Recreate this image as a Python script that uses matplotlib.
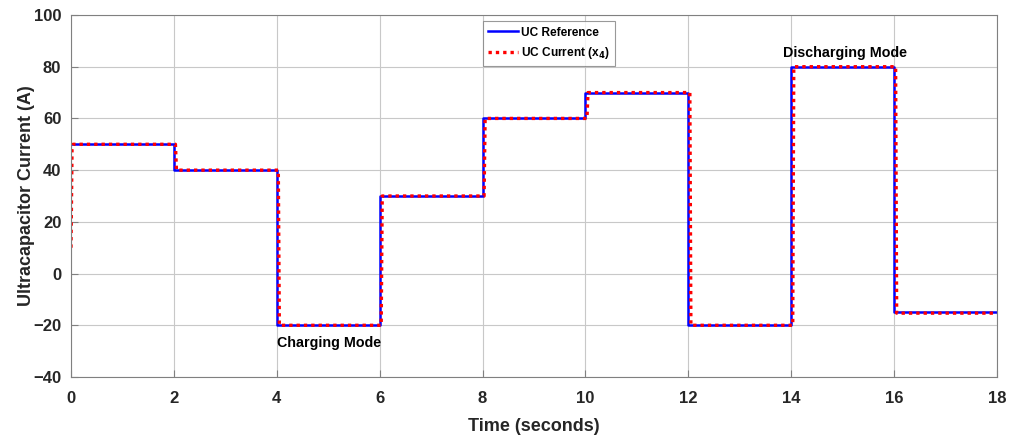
import numpy as np
import matplotlib.pyplot as plt

plt.rcParams["font.family"] = ["Liberation Sans", "DejaVu Sans"]
plt.rcParams["font.weight"] = "bold"

# reference profile: switching instants and setpoints
ref_t = [0, 2, 2, 4, 4, 6, 6, 8, 8, 10, 10, 12, 12, 14, 14, 16, 16, 18]
ref_i = [50, 50, 40, 40, -20, -20, 30, 30, 60, 60, 70, 70, -20, -20, 80, 80, -15, -15]

# measured ultracapacitor current (lags the reference slightly)
cur_t = [0, 0.02, 0.04, 2.03, 2.05, 4.03, 4.05, 6.03, 6.05, 8.03, 8.05,
         10.03, 10.05, 12.03, 12.05, 14.03, 14.05, 16.03, 16.05, 18]
cur_i = [10, 48, 50, 50, 40, 40, -20, -20, 30, 30, 60,
         60, 70, 70, -20, -20, 80, 80, -15.3, -15.3]

fig = plt.figure(figsize=(10.26, 4.36), dpi=100)
ax = fig.add_axes([0.0692, 0.1353, 0.9025, 0.8303])

ax.plot(ref_t, ref_i, color="blue", lw=1.8, label="UC Reference")
ax.plot(cur_t, cur_i, color="red", lw=2.4, ls=(0, (1, 1.2)), label="UC Current (x$_4$)")

ax.set_xlim(0, 18)
ax.set_ylim(-40, 100)
ax.set_xticks(np.arange(0, 19, 2))
ax.set_yticks(np.arange(-40, 101, 20))
ax.set_yticklabels(["\u221240", "\u221220", "0", "20", "40", "60", "80", "100"])
ax.grid(True, color="#c8c8c8", lw=0.8)
ax.tick_params(direction="in", length=5, color="#808080", labelsize=12)
ax.tick_params(axis="x", pad=10)
ax.tick_params(axis="y", pad=7)
for lbl in ax.get_xticklabels() + ax.get_yticklabels():
    lbl.set_fontweight("bold")
    lbl.set_color("#262626")
for s in ax.spines.values():
    s.set_color("#808080")

ax.set_xlabel("Time (seconds)", fontsize=13, fontweight="bold", color="#262626", labelpad=9)
ax.set_ylabel("Ultracapacitor Current (A)", fontsize=13, fontweight="bold", color="#262626", labelpad=-1)

ax.text(4.0, -26.8, "Charging Mode", fontsize=10.3, fontweight="bold", va="center")
ax.text(13.84, 85.3, "Discharging Mode", fontsize=10.3, fontweight="bold", va="center")

leg = ax.legend(loc="upper left", bbox_to_anchor=(0.445, 0.983), fontsize=8.6,
                frameon=True, fancybox=False, handlelength=2.5, borderpad=0.45,
                borderaxespad=0, labelspacing=0.55, handletextpad=0.25)
leg.get_frame().set_edgecolor("#808080")
leg.get_frame().set_linewidth(0.8)
for t in leg.get_texts():
    t.set_fontweight("bold")

fig.savefig("out.png", dpi=100)
